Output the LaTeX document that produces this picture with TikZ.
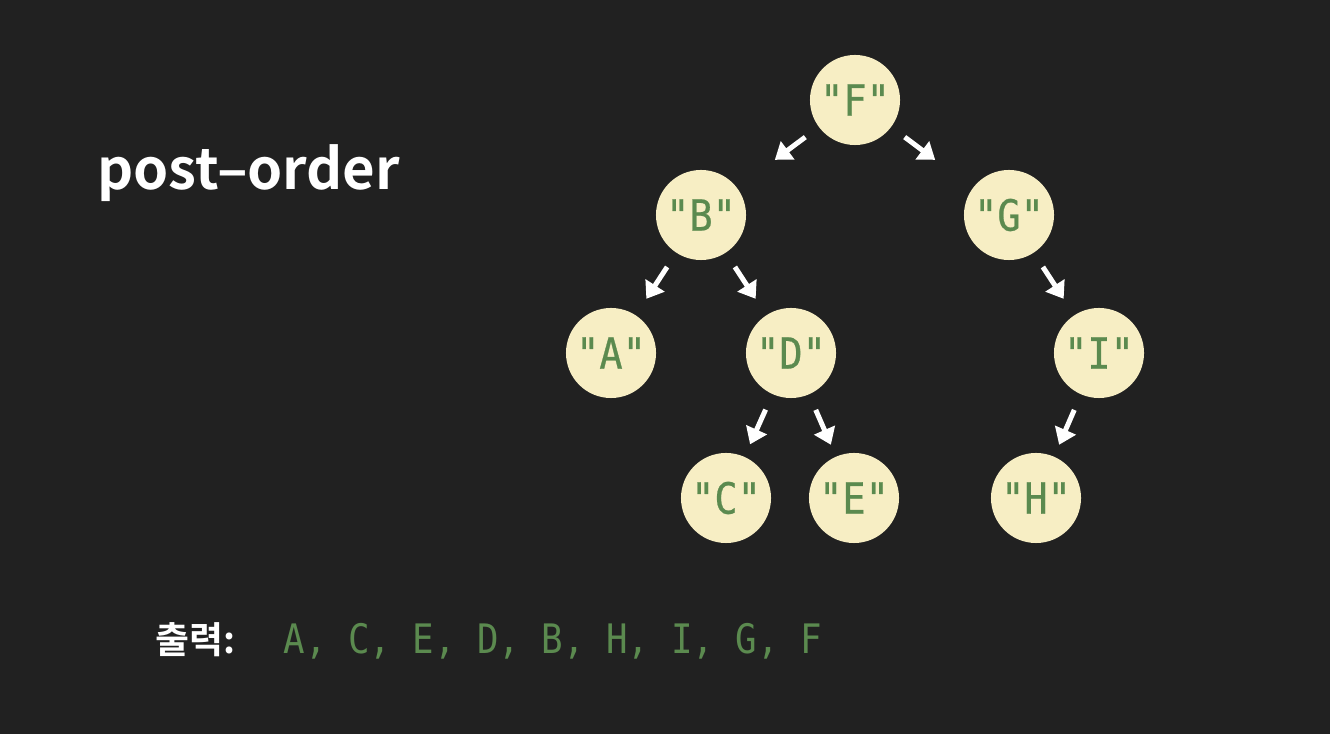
\documentclass[tikz,border=0pt]{standalone}
\usepackage{fontspec}
\usetikzlibrary{arrows.meta,calc}
\setmainfont{Noto Sans CJK KR}
\newfontfamily\headfont{Noto Sans CJK KR Bold}
\newfontfamily\codefont[FakeStretch=0.88]{DejaVu Sans Mono}
\newfontfamily\codefontmid[FakeStretch=0.9,FakeBold=0.6]{DejaVu Sans Mono}
\definecolor{bgdark}{HTML}{212121}
\definecolor{nodefill}{HTML}{F7EEC4}
\definecolor{codegreen}{HTML}{5B8A4F}
\tikzset{
  treenode/.style={circle, fill=nodefill, minimum size=0.9cm, inner sep=0pt,
    text=codegreen, font=\codefontmid\fontsize{12.2pt}{14pt}\selectfont},
  edgearrow/.style={draw=white, line width=0.05cm,
    -{Triangle[length=0.16cm,width=0.22cm]}},
}
% draw a short arrow on the segment between two nodes
\newcommand{\treeedge}[2]{%
  \draw[edgearrow] ($(#1)!0.62cm!(#2)$) -- ($(#1)!1.0cm!(#2)$);}
\begin{document}
\begin{tikzpicture}[x=0.01cm,y=-0.01cm]
  \fill[bgdark] (0,0) rectangle (1330,734);
  \useasboundingbox (0,0) rectangle (1330,734);

  \node[anchor=base west, text=white, inner sep=0pt,
        font=\headfont\fontsize{16pt}{18pt}\selectfont] (title) at (97,190) {post–order};

  \node[treenode] (F) at (855,100) {"F"};
  \node[treenode] (B) at (701,215) {"B"};
  \node[treenode] (G) at (1009,215) {"G"};
  \node[treenode] (A) at (611,353) {"A"};
  \node[treenode] (D) at (791,353) {"D"};
  \node[treenode] (I) at (1099,353) {"I"};
  \node[treenode] (C) at (726,498) {"C"};
  \node[treenode] (E) at (854,498) {"E"};
  \node[treenode] (H) at (1036,498) {"H"};

  \treeedge{F}{B}
  \treeedge{F}{G}
  \treeedge{B}{A}
  \treeedge{B}{D}
  \treeedge{G}{I}
  \treeedge{D}{C}
  \treeedge{D}{E}
  \treeedge{I}{H}

  \node[anchor=base west, text=white, inner sep=0pt,
        font=\headfont\fontsize{10.5pt}{12pt}\selectfont] (outlabel) at (155,654) {출력:};
  \node[anchor=base west, text=codegreen, inner sep=0pt,
        font=\codefont\fontsize{11.55pt}{14pt}\selectfont] (outseq) at (283,654)
        {A,\ C,\ E,\ D,\ B,\ H,\ I,\ G,\ F};
\end{tikzpicture}
\end{document}
